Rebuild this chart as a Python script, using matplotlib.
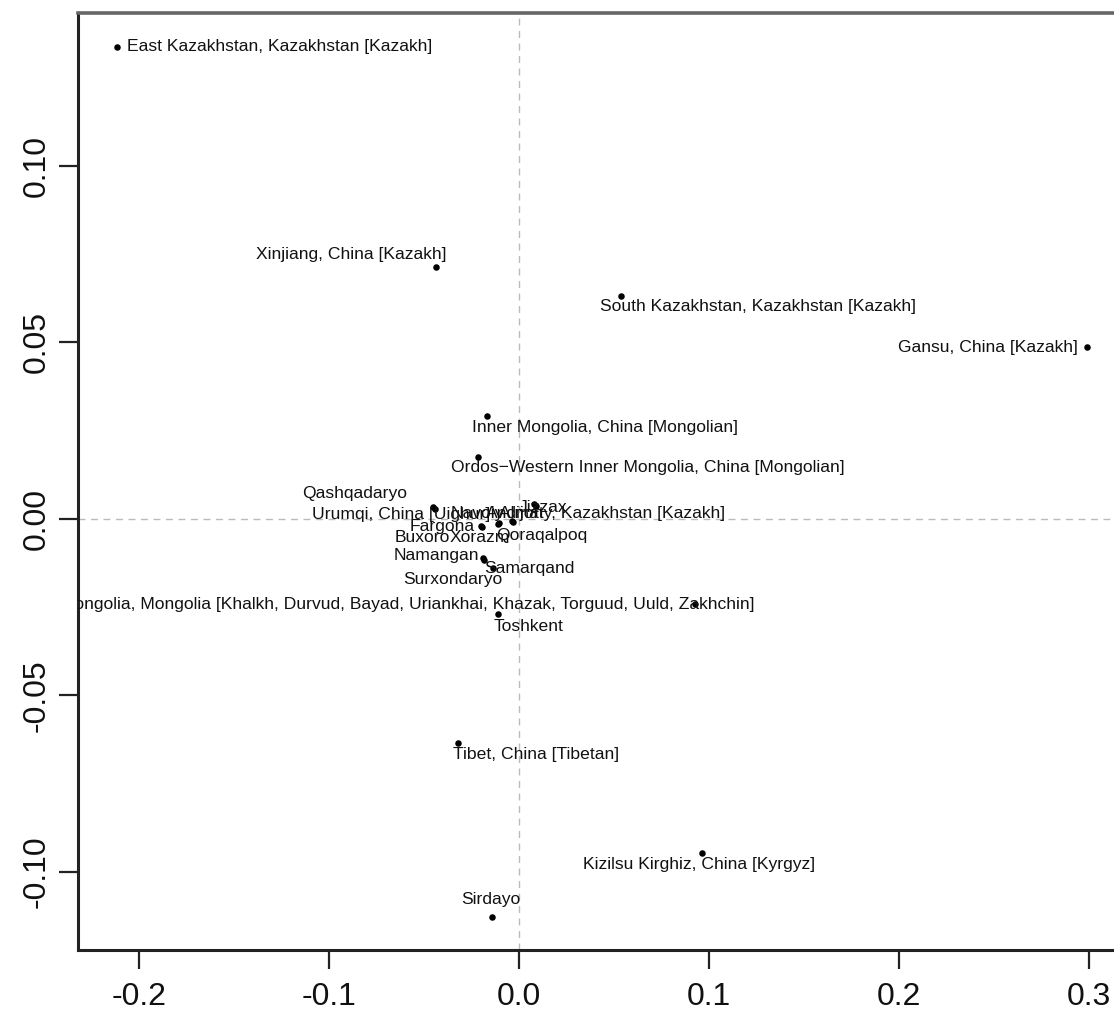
import matplotlib
matplotlib.use("Agg")
import matplotlib.pyplot as plt

plt.rcParams['font.family'] = ['Liberation Sans', 'DejaVu Sans']
plt.rcParams['axes.unicode_minus'] = False

# PCA-style coordinates
labels = [
    "East Kazakhstan, Kazakhstan [Kazakh]",
    "Xinjiang, China [Kazakh]",
    "South Kazakhstan, Kazakhstan [Kazakh]",
    "Gansu, China [Kazakh]",
    "Inner Mongolia, China [Mongolian]",
    "Ordos\u2212Western Inner Mongolia, China [Mongolian]",
    "Qashqadaryo",
    "Urumqi, China [Uighur]",
    "Navoiy",
    "Andijon",
    "Jizzax",
    "Almaty, Kazakhstan [Kazakh]",
    "Fargona",
    "Buxoro",
    "Xorazm",
    "Qoraqalpoq",
    "Namangan",
    "Samarqand",
    "Surxondaryo",
    "Toshkent",
    "Mongolia, Mongolia [Khalkh, Durvud, Bayad, Uriankhai, Khazak, Torguud, Uuld, Zakhchin]",
    "Tibet, China [Tibetan]",
    "Kizilsu Kirghiz, China [Kyrgyz]",
    "Sirdayo",
]
pc1 = [-0.2116, -0.0437, 0.0537, 0.2989, -0.0168, -0.0216, -0.0453, -0.0442,
       -0.0105, -0.0032, 0.0079, 0.0089, -0.0195, -0.0200, -0.0111, -0.0037,
       -0.0189, -0.0137, -0.0184, -0.0111, 0.0926, -0.0321, 0.0963, -0.0142]
pc2 = [0.1337, 0.0714, 0.0632, 0.0487, 0.0292, 0.0176, 0.0034, 0.0028,
       -0.0011, -0.0008, 0.0042, 0.0037, -0.0023, -0.0020, -0.0014, -0.0006,
       -0.0110, -0.0139, -0.0116, -0.0269, -0.0241, -0.0635, -0.0946, -0.1127]

# label placement: offset in pixels from the point, and horizontal alignment
label_offsets = [
    (10, 0, 'left'), (11, 12, 'right'), (-21, -11, 'left'), (-9, 0, 'right'),
    (-15, -12, 'left'), (-27, -11, 'left'), (-26, 13, 'right'), (-123, -5, 'left'),
    (-22, 9, 'center'), (2, 8, 'center'), (9, -3, 'center'), (189, -8, 'right'),
    (-7, 1, 'right'), (-86, -12, 'left'), (-48, -14, 'left'), (-16, -14, 'left'),
    (-4, 2, 'right'), (-9, 0, 'left'), (18, -20, 'right'), (-4, -13, 'left'),
    (60, 0, 'right'), (-5, -11, 'left'), (-119, -12, 'left'), (-1, 17, 'center'),
]

xticks = [-0.2, -0.1, 0.0, 0.1, 0.2, 0.3]
yticks = [-0.10, -0.05, 0.00, 0.05, 0.10]

fig = plt.figure(figsize=(11.14, 10.18), dpi=100)
ax = fig.add_axes([0.070, 0.0668, 0.9417, 0.9204])

ax.axhline(0, color='#bbbbbb', lw=1, ls=(0, (5, 4)), zorder=1)
ax.axvline(0, color='#bbbbbb', lw=1, ls=(0, (5, 4)), zorder=1)
ax.scatter(pc1, pc2, s=22, color='black', zorder=3, linewidths=0)

for lab, x, y, (dx, dy, ha) in zip(labels, pc1, pc2, label_offsets):
    ax.annotate(lab, (x, y), xytext=(dx, dy), textcoords='offset pixels',
                ha=ha, va='center', fontsize=12.6, color='#111111',
                clip_on=True, zorder=4)

ax.set_xlim(-0.2321, 0.3200)
ax.set_ylim(-0.1221, 0.1433)
ax.set_xticks(xticks)
ax.set_xticklabels(['%.1f' % t for t in xticks])
ax.set_yticks(yticks)
ax.set_yticklabels(['%.2f' % t for t in yticks], rotation=90, va='center')
ax.tick_params(axis='both', length=14, width=1.6, color='#222222',
               labelsize=23, labelcolor='#111111')
ax.tick_params(axis='x', pad=9)
ax.tick_params(axis='y', pad=5)
for side in ['left', 'bottom']:
    ax.spines[side].set_linewidth(2.2)
    ax.spines[side].set_color('#222222')
for side in ['top', 'right']:
    ax.spines[side].set_linewidth(2.6)
    ax.spines[side].set_color('#666666')

fig.savefig('out.png', dpi=100)
